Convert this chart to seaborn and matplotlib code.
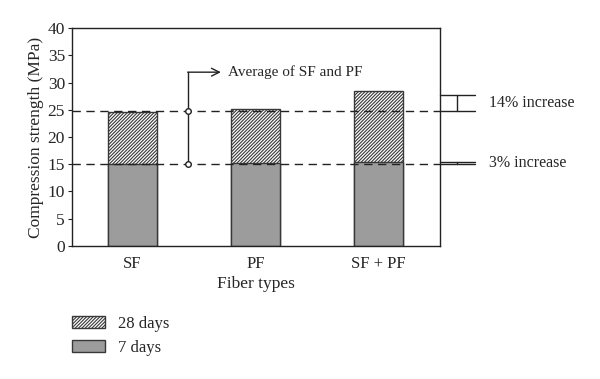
import matplotlib
matplotlib.use("Agg")
import matplotlib.pyplot as plt
import seaborn as sns
import pandas as pd
from matplotlib.patches import Patch

categories = ["SF", "PF", "SF + PF"]
days7 = [15.0, 15.3, 15.4]
days28 = [24.5, 25.2, 28.4]
avg28 = 24.8
avg7 = 15.05
inc14_top = 27.8
inc3_top = 15.5
yticks = [0, 5, 10, 15, 20, 25, 30, 35, 40]

sns.set_theme(style="white")
plt.rcParams["font.family"] = ["Liberation Serif", "DejaVu Serif"]
plt.rcParams["hatch.linewidth"] = 0.8
plt.rcParams["hatch.color"] = "#3a3a3a"

fig = plt.figure(figsize=(6, 3.79), dpi=100)
ax = fig.add_axes([0.12, 0.351, 0.613, 0.575])

df = pd.DataFrame({"Fiber": categories, "d7": days7, "d28": days28})
edge = "#383838"
hatch = "//////////"
sns.barplot(data=df, x="Fiber", y="d28", ax=ax, color="white", edgecolor=edge,
            linewidth=1.0, width=0.4, hatch=hatch, zorder=2)
sns.barplot(data=df, x="Fiber", y="d7", ax=ax, color="#9c9c9c", edgecolor=edge,
            linewidth=1.0, width=0.4, zorder=2, saturation=1)

ax.set_xlim(-0.49, 2.5)
ax.set_ylim(0, 40)
ax.set_yticks(yticks)
ax.set_yticklabels([str(t) for t in yticks], fontsize=12.5)
ax.set_xticks(range(len(categories)))
ax.set_xticklabels(categories, fontsize=12)
ax.set_xlabel("Fiber types", fontsize=12.5, labelpad=3)
ax.set_ylabel("Compression strength (MPa)", fontsize=12.5, labelpad=3)
ax.tick_params(axis="y", length=3, width=0.8, color="#222222", pad=2, direction="out", left=True)
ax.tick_params(axis="x", length=0, pad=7)
for s in ax.spines.values():
    s.set_color("#222222")
    s.set_linewidth(1.0)

# dashed average lines
for yv in (avg28, avg7):
    ax.axhline(yv, color="#222222", lw=1.0, ls=(0, (6, 4)), zorder=3)

# arrow annotation
ax_x = 0.455
ax.plot([ax_x, ax_x], [avg7, 31.9], color="#222222", lw=1.0, zorder=4)
ax.annotate("", xy=(0.72, 31.9), xytext=(ax_x - 0.005, 31.9),
            arrowprops=dict(arrowstyle="->", color="#222222", lw=1.0,
                            mutation_scale=14, shrinkA=0, shrinkB=0))
ax.plot([ax_x, ax_x], [avg28, avg7], ls="none", marker="o", ms=4,
        mfc="white", mec="#222222", mew=1.0, zorder=5)
ax.text(0.775, 31.9, "Average of SF and PF", fontsize=11, va="center", ha="left")

# right-side increase brackets
x0, x1, xm = 2.5, 2.785, 2.64
for top, bot in ((inc14_top, avg28), (inc3_top, avg7)):
    ax.plot([x0, x1], [top, top], color="#222222", lw=1.0, clip_on=False)
    ax.plot([x0, x1], [bot, bot], color="#222222", lw=1.0, clip_on=False)
    ax.plot([xm, xm], [bot, top], color="#222222", lw=1.0, clip_on=False)
ax.text(2.9, (inc14_top + avg28) / 2, "14% increase", fontsize=11.5, va="center", ha="left")
ax.text(2.9, (inc3_top + avg7) / 2, "3% increase", fontsize=11.5, va="center", ha="left")

handles = [Patch(facecolor="white", edgecolor=edge, hatch=hatch, lw=1.0),
           Patch(facecolor="#9c9c9c", edgecolor=edge, lw=1.0)]
fig.legend(handles, ["28 days", "7 days"], loc="upper left",
           bbox_to_anchor=(0.12, 0.167), frameon=False, fontsize=12,
           borderpad=0, borderaxespad=0,
           handlelength=1.98, handleheight=0.72, labelspacing=0.5, handletextpad=0.8)

fig.savefig("out.png", dpi=100)
